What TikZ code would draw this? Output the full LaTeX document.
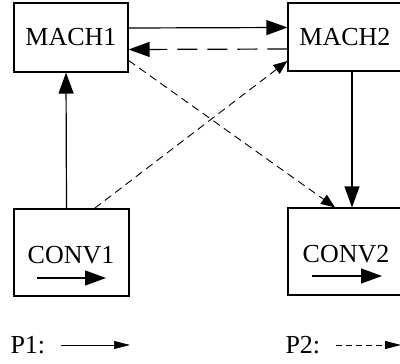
\documentclass[tikz,border=0pt]{standalone}
\usepackage{fontspec}
\setmainfont{Liberation Serif}
\usetikzlibrary{arrows.meta}

\begin{document}
\begin{tikzpicture}[x=1pt,y=-1pt,
    box/.style={draw, line width=1.2pt, minimum width=114pt, inner sep=0pt},
    flow/.style={line width=1.2pt, -{Triangle[length=21pt,width=15pt]}},
    back/.style={flow, dash pattern=on 20pt off 10pt},
    cross/.style={line width=0.9pt, -{Triangle[length=14pt,width=11pt]},
                  dash pattern=on 8pt off 5pt},
    big/.style={font=\fontsize{26}{30}\selectfont}]
\useasboundingbox (0,0) rectangle (400,364);
\clip (0,0) rectangle (400,364);
% machines and conveyors
\node[box, minimum height=69pt, big] (mach1) at (71,37.5) {MACH1};
\node[box, minimum height=68pt, big] (mach2) at (345,37) {MACH2};
\node[box, minimum width=115pt, minimum height=87pt] (conv1) at (71.5,252.5) {};
\node[box, minimum height=87pt] (conv2) at (345,251.5) {};
\node[big] (c1text) at (71,255) {CONV1};
\node[big] (c2text) at (346,254) {CONV2};
\coordinate (c1a) at (37,278);
\coordinate (c1b) at (106,278);
\coordinate (c2a) at (312,276);
\coordinate (c2b) at (382,276);
\draw[flow] (c1a) -- (c1b);
\draw[flow] (c2a) -- (c2b);
%
\draw[flow] ([yshift=9.5pt]mach1.east) -- ([yshift=9.5pt]mach2.west);
\draw[back] ([yshift=-12pt]mach2.west) -- ([yshift=-12pt]mach1.east);
\draw[cross] ([yshift=-23pt]mach1.east) -- ([xshift=-10pt]conv2.north);
\draw[cross] ([xshift=23pt]conv1.north) -- ([yshift=-24pt]mach2.west);
\draw[flow] ([xshift=-5pt]conv1.north) -- ([xshift=-5pt]mach1.south);
\draw[flow] ([xshift=7pt]mach2.south) -- ([xshift=7pt]conv2.north);
% legend
\node[big, anchor=west] (p1) at (7,345) {P1:};
\node[big, anchor=west] (p2) at (282,345) {P2:};
\coordinate (p1end) at (130,345);
\coordinate (p2end) at (401,345);
\draw[line width=0.7pt, -{Triangle[length=16pt,width=8pt]}]
  ([xshift=12pt]p1.east) -- (p1end);
\draw[line width=0.9pt, dash pattern=on 6pt off 4pt, -{Triangle[length=16pt,width=8pt]}]
  ([xshift=12pt]p2.east) -- (p2end);
\end{tikzpicture}
\end{document}
